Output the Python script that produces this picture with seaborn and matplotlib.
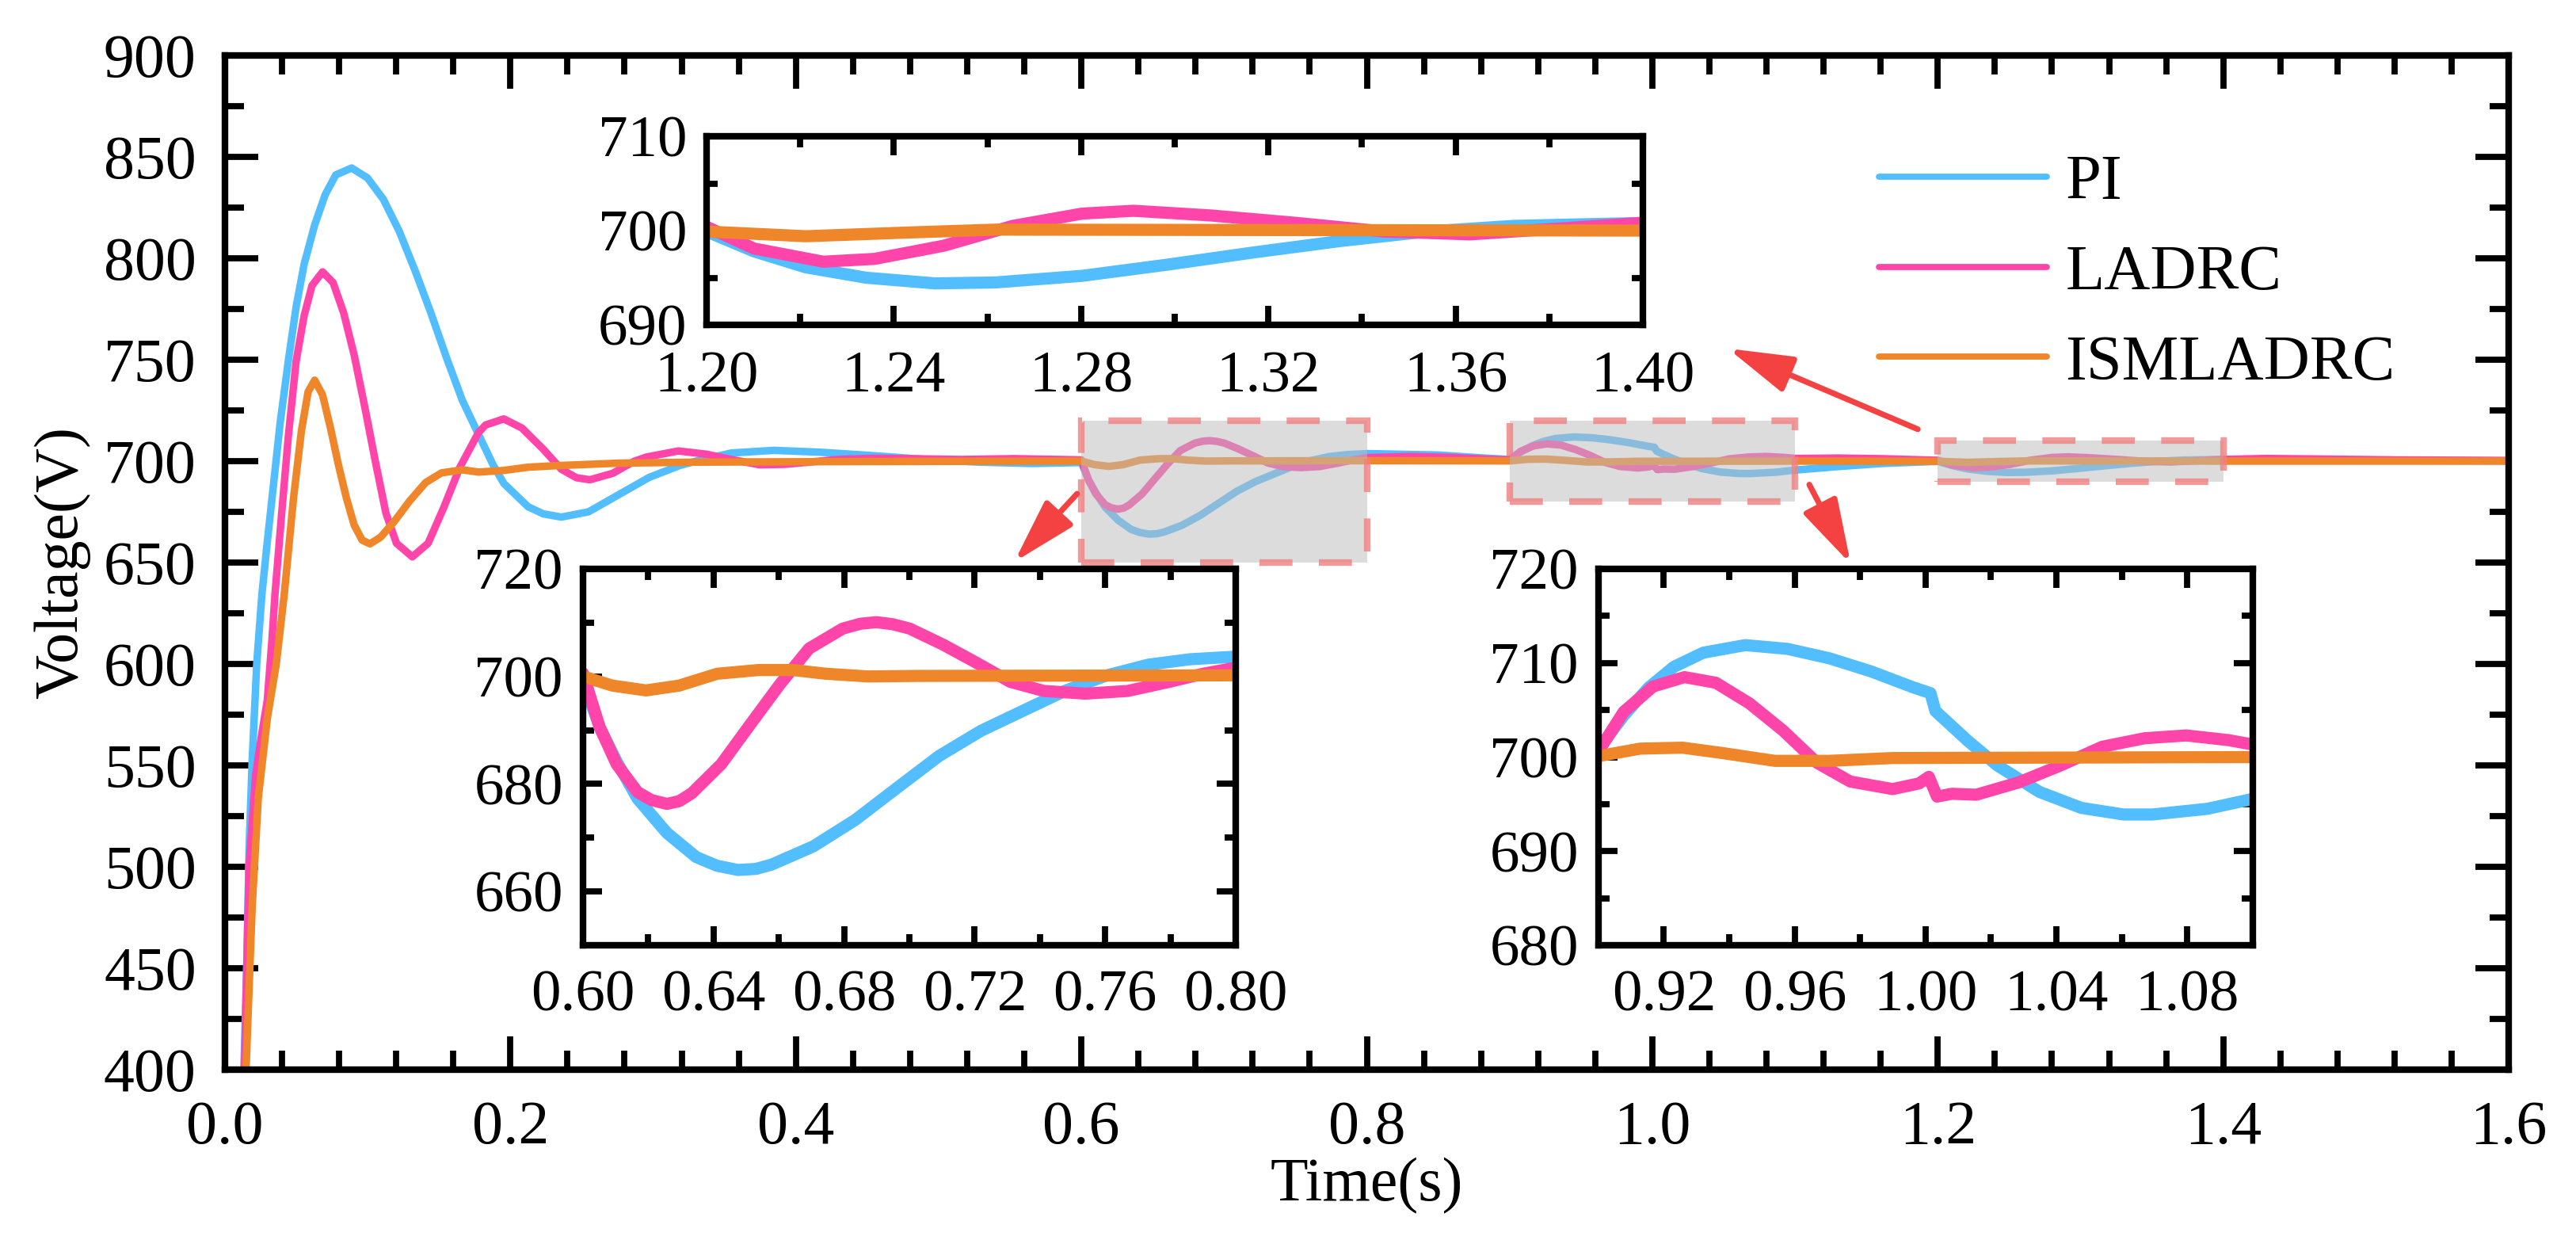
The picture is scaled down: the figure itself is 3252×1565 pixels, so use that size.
import matplotlib
matplotlib.use("Agg")
import matplotlib.pyplot as plt
import matplotlib.patches as patches
from matplotlib.ticker import MultipleLocator, AutoMinorLocator, FormatStrFormatter
import seaborn as sns

# ---- data (time in s, voltage in V) ----
pi_t = [0.0125, 0.0153, 0.0170, 0.0191, 0.0223, 0.0259, 0.0296, 0.0342, 0.0388, 0.0444,
        0.0499, 0.0555, 0.0629, 0.0703, 0.0777, 0.0888, 0.0999, 0.1110, 0.1221, 0.1332,
        0.1443, 0.1554, 0.1665, 0.1776, 0.1880, 0.1954, 0.2124,
        0.2230, 0.2357, 0.2548, 0.2760, 0.2973, 0.3185, 0.3300, 0.3548, 0.3845, 0.4167,
        0.4540, 0.4910, 0.5282, 0.5654, 0.6000,
        0.6051, 0.6103, 0.6167, 0.6257, 0.6347, 0.6410, 0.6475, 0.6530, 0.6578, 0.6706,
        0.6834, 0.6963, 0.7091, 0.7220, 0.7348, 0.7476, 0.7605, 0.7733, 0.7861, 0.8006,
        0.8500, 0.8800,
        0.9000, 0.9077, 0.9154, 0.9231, 0.9321, 0.9449, 0.9578, 0.9706, 0.9834, 0.9963,
        1.0015, 1.0030, 1.0130, 1.0220, 1.0348, 1.0476, 1.0605, 1.0694, 1.0861, 1.1006,
        1.1300, 1.1600, 1.1900, 1.2000, 1.2101, 1.2212, 1.2341, 1.2488, 1.2617, 1.2802,
        1.2986, 1.3171, 1.3355, 1.3539, 1.3724, 1.3991, 1.4500, 1.5000, 1.6000]
pi_v = [380, 450, 510, 552, 600, 634, 659.5, 689.4, 719.3, 749.2,
        776, 797, 816.4, 831.4, 841.1, 844.5, 839.6, 829.1, 813.4, 794,
        773.1, 750.7, 729.7, 713.3, 698, 689, 677.5,
        674, 672.4, 675, 683.5, 692, 697.8, 700, 704, 705.3, 704.4,
        702.7, 700.8, 699.5, 698.8, 699.3,
        690.6, 684.2, 677.3, 670.9, 666.4, 664.8, 664, 664.2, 665, 668.4,
        673.3, 679.3, 685.2, 689.9, 693.6, 697.3, 700.2, 702.2, 703.2, 703.7,
        703, 701.6,
        700.8, 704.4, 707.4, 709.6, 711.1, 711.9, 711.5, 710.5, 709.1, 707.4,
        706.8, 704.9, 701.7, 699.1, 696.3, 694.6, 693.9, 693.9, 694.5, 695.6,
        697.3, 698.8, 699.6, 699.9, 697.8, 696.1, 695, 694.4, 694.5, 695.2,
        696.4, 697.7, 698.9, 699.9, 700.5, 700.8, 700.6, 700.3, 700.1]

ladrc_t = [0.0128, 0.0150, 0.0170, 0.0215, 0.0255, 0.0297, 0.0330, 0.0351, 0.0398, 0.0444,
           0.0499, 0.0555, 0.0610, 0.0684, 0.0758, 0.0832, 0.0906, 0.0980, 0.1054, 0.1128,
           0.1202, 0.1313, 0.1424, 0.1535, 0.1646, 0.1776,
           0.1826, 0.1954, 0.2081, 0.2230, 0.2357, 0.2463, 0.2557, 0.2718, 0.2867,
           0.2953, 0.3176, 0.3374, 0.3548, 0.3746, 0.3920, 0.4093, 0.4291, 0.4540, 0.4787,
           0.5160, 0.5530, 0.6000,
           0.6051, 0.6103, 0.6167, 0.6210, 0.6257, 0.6295, 0.6334, 0.6424, 0.6513, 0.6603,
           0.6693, 0.6796, 0.6850, 0.6899, 0.6950, 0.7001, 0.7104, 0.7207, 0.7309, 0.7412,
           0.7540, 0.7669, 0.7797, 0.7900,
           0.8006, 0.8300, 0.8600, 0.8900, 0.9000, 0.9077, 0.9167, 0.9263, 0.9359, 0.9462,
           0.9565, 0.9668, 0.9770, 0.9899, 0.9980, 1.0010, 1.0035, 1.0080, 1.0155, 1.0284,
           1.0412, 1.0540, 1.0669, 1.0797, 1.0926, 1.1006, 1.1300, 1.1600, 1.1900, 1.2000,
           1.2101, 1.2249, 1.2359, 1.2507, 1.2654, 1.2802, 1.2912, 1.3078, 1.3263, 1.3447,
           1.3631, 1.3816, 1.3991, 1.4300, 1.4700, 1.5200, 1.6000]
ladrc_v = [370, 440, 501, 545, 564, 582, 612, 634.4, 674.4, 711.8,
           749.2, 771.6, 786.5, 793.3, 788, 773.1, 752.2, 726.7, 699.9, 674.4,
           659.5, 652.8, 659.5, 677.4, 696.9, 714,
           717.8, 720.8, 716.3, 705.9, 696, 691.8, 690.8, 694, 699.9,
           702, 705, 703.4, 700.8, 698.2, 698.4, 699.5, 700.8, 701.4, 701.2,
           700.8, 701.2, 700.6,
           690.6, 683.7, 678.5, 677.0, 676.3, 676.8, 678.3, 683.7, 691.1, 698.5,
           705.2, 708.9, 709.8, 710.1, 709.7, 708.9, 705.9, 702.5, 699, 697.3,
           696.8, 697.3, 699, 700.5,
           701.7, 702.3, 701.8, 700.8, 700.6, 704.8, 707.5, 708.5, 707.9, 705.7,
           702.8, 699.4, 697.4, 696.6, 697.2, 697.9, 695.8, 696.1, 696, 697.3,
           699.1, 701.1, 702, 702.3, 701.8, 701.3, 701.5, 701.2, 700.6, 700.4,
           698.1, 696.7, 697, 698.4, 700.5, 701.8, 702.1, 701.6, 700.8, 699.9,
           699.6, 700.2, 700.8, 701.3, 701, 700.6, 700.3]

ism_t = [0.0132, 0.0191, 0.0234, 0.0297, 0.0360, 0.0416, 0.0481, 0.0536, 0.0583, 0.0629,
         0.0684, 0.0740, 0.0795, 0.0851, 0.0906, 0.0962, 0.1017, 0.1091, 0.1184, 0.1295,
         0.1406, 0.1517, 0.1665, 0.1776, 0.1954,
         0.2124, 0.2336, 0.2760, 0.3330, 0.4500, 0.6000,
         0.6090, 0.6193, 0.6295, 0.6411, 0.6539, 0.6642, 0.6745, 0.6873, 0.7027, 0.8000,
         0.9000, 0.9128, 0.9257, 0.9385, 0.9539, 0.9706, 0.9899, 1.1000,
         1.2000, 1.2212, 1.2433, 1.2617, 1.4000, 1.6000]
ism_v = [370, 480, 534, 573, 600, 634.4, 681.9, 714.8, 734.2, 739.9,
         732.7, 716.3, 698.3, 681.9, 668.4, 661, 659.2, 662.5, 670, 680.4,
         689.4, 694.2, 695.7, 694.6, 695.4,
         697, 697.8, 699, 699.5, 699.8, 700,
         698.3, 697.4, 698.3, 700.5, 701.2, 701.2, 700.5, 700, 700.1, 700.2,
         700.1, 700.9, 701, 700.4, 699.6, 699.6, 699.9, 700,
         699.9, 699.4, 699.8, 700.1, 700, 700]

series = [("PI", pi_t, pi_v, "#52BDFF"),
          ("LADRC", ladrc_t, ladrc_v, "#FF45AA"),
          ("ISMLADRC", ism_t, ism_v, "#EF8629")]

# zoom windows: (t0, t1, v0, v1)
win_a = (1.20, 1.40, 690, 710)
win_b = (0.60, 0.80, 650, 720)
win_c = (0.90, 1.10, 680, 720)

sns.set_style("ticks")
plt.rcParams["font.family"] = ["Liberation Serif", "DejaVu Serif"]
plt.rcParams["axes.linewidth"] = 3.0
plt.rcParams["axes.edgecolor"] = "black"
plt.rcParams["xtick.color"] = "black"
plt.rcParams["ytick.color"] = "black"
plt.rcParams["text.color"] = "black"
plt.rcParams["axes.labelcolor"] = "black"

fig = plt.figure(figsize=(16.26, 7.825), dpi=200)
ax = fig.add_axes([0.0873, 0.1374, 0.8866, 0.8179])

for name, t, v, c in series:
    sns.lineplot(x=t, y=v, ax=ax, color=c, linewidth=3.4, label=name,
                 sort=False, estimator=None)

ax.set_xlim(0, 1.6)
ax.set_ylim(400, 900)
ax.xaxis.set_major_locator(MultipleLocator(0.2))
ax.xaxis.set_minor_locator(AutoMinorLocator(5))
ax.yaxis.set_major_locator(MultipleLocator(50))
ax.yaxis.set_minor_locator(AutoMinorLocator(2))
ax.xaxis.set_major_formatter(FormatStrFormatter("%.1f"))
ax.tick_params(which="both", direction="in", top=True, right=True, width=2.8,
               labelsize=28)
ax.tick_params(which="major", length=15)
ax.tick_params(which="minor", length=8.5)
ax.tick_params(axis="x", pad=14)
ax.tick_params(axis="y", pad=13)
ax.set_xlabel("Time(s)", fontsize=28, labelpad=0)
ax.set_ylabel("Voltage(V)", fontsize=28, labelpad=6)

leg = ax.legend(loc="center left", bbox_to_anchor=(0.7243, 0.785), frameon=False,
                fontsize=29, handlelength=2.63, handletextpad=0.29, labelspacing=0.5,
                borderpad=0, borderaxespad=0)
for h in leg.get_lines():
    h.set_linewidth(2.8)

# highlighted regions on the main axes
for t0, t1, v0, v1 in (win_b, win_c, win_a):
    ax.add_patch(patches.Rectangle((t0, v0), t1 - t0, v1 - v0, facecolor="#bcbcbc",
                                   alpha=0.52, edgecolor="none", zorder=5))
    ax.add_patch(patches.Rectangle((t0, v0), t1 - t0, v1 - v0, fill=False,
                                   edgecolor="#F08080", alpha=0.8, lw=3,
                                   linestyle=(0, (5, 4)), zorder=6))

arrow_kw = dict(arrowstyle="-|>,head_length=1.25,head_width=0.36", mutation_scale=20,
                lw=2.6, color="#F44141", shrinkA=0, shrinkB=0)
ax.annotate("", xy=(0.553, 650.3), xytext=(0.597, 683.9), arrowprops=arrow_kw, zorder=7)
ax.annotate("", xy=(1.139, 649.3), xytext=(1.110, 688.4), arrowprops=arrow_kw, zorder=7)
ax.annotate("", xy=(1.053, 755.5), xytext=(1.186, 715.7), arrowprops=arrow_kw, zorder=7)


def make_inset(rect, win, xmajor, ymajor, yminor, xfmt, xpad, xticks=None):
    ins = fig.add_axes(rect)
    ins.set_facecolor("white")
    for name, t, v, c in series:
        sns.lineplot(x=t, y=v, ax=ins, color=c, linewidth=5.5, legend=False,
                     sort=False, estimator=None)
    ins.set_xlim(win[0], win[1])
    ins.set_ylim(win[2], win[3])
    if xticks is None:
        ins.xaxis.set_major_locator(MultipleLocator(xmajor))
    else:
        ins.set_xticks(xticks)
    ins.xaxis.set_minor_locator(MultipleLocator(xmajor / 2))
    ins.yaxis.set_major_locator(MultipleLocator(ymajor))
    ins.yaxis.set_minor_locator(MultipleLocator(yminor))
    ins.xaxis.set_major_formatter(FormatStrFormatter(xfmt))
    ins.tick_params(which="both", direction="in", top=True, right=True, width=2.8,
                    labelsize=27)
    ins.tick_params(which="major", length=8.5)
    ins.tick_params(which="minor", length=5)
    ins.tick_params(axis="x", pad=xpad)
    ins.tick_params(axis="y", pad=9)
    ins.set_xlabel("")
    ins.set_ylabel("")
    for s in ins.spines.values():
        s.set_linewidth(3)
    return ins


make_inset([0.2743, 0.7380, 0.3635, 0.1521], win_a, 0.04, 10, 5, "%.2f", 12)
make_inset([0.2263, 0.2377, 0.2534, 0.3035], win_b, 0.04, 20, 10, "%.2f", 11)
make_inset([0.6205, 0.2377, 0.2540, 0.3035], win_c, 0.04, 10, 5, "%.2f", 11,
           xticks=[0.92, 0.96, 1.00, 1.04, 1.08])

fig.savefig("out.png", dpi=200)
